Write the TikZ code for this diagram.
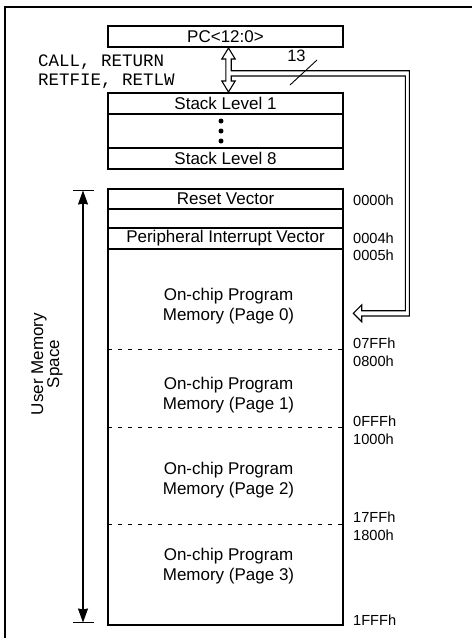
\documentclass[tikz,border=0pt]{standalone}
\usepackage{fontspec}
\setmainfont{Liberation Sans}
\setmonofont{Liberation Mono}
\usetikzlibrary{arrows.meta, positioning}

\begin{document}
\begin{tikzpicture}[
    x=1pt, y=-1pt,
    box/.style={rectangle, draw, line width=1.2pt, inner sep=0pt, outer sep=0pt, minimum width=235pt, font=\fontsize{17}{20}\selectfont},
    txt/.style={inner sep=0pt, align=center, font=\fontsize{17}{20}\selectfont},
    addr/.style={anchor=west, inner sep=0pt, font=\fontsize{14.6}{17}\selectfont},
    pagesep/.style={line width=1pt, dash pattern=on 4pt off 6pt},
    hollow/.style={line width=1.1pt, line join=miter},
    dimarrow/.style={{Stealth[length=14pt, width=10pt, inset=1pt]}-{Stealth[length=14pt, width=10pt, inset=1pt]}, line width=1.1pt}
]
\useasboundingbox (0,0) rectangle (472,638);
\draw[line width=1.5pt] (472,7) -- (5,7) -- (5,638);

% program counter and stack
\node[box, minimum height=21pt] (pc) at (225.5,36.5) {PC<12:0>};
\node[anchor=west, inner sep=0pt, align=left, font=\fontsize{17.5}{19}\ttfamily] (instr) at (38,71.5) {CALL, RETURN\\RETFIE, RETLW};

\node[box, minimum height=21pt] (stack1) at (225.5,103.5) {Stack Level 1};
\node[box, minimum height=34pt, below=0pt of stack1] (stackdots) {};
\node[box, minimum height=21pt, below=0pt of stackdots] (stack8) {Stack Level 8};
\fill ([xshift=-4.5pt, yshift=10pt]stackdots.center) circle (2.5pt);
\fill ([xshift=-4.5pt]stackdots.center) circle (2.5pt);
\fill ([xshift=-4.5pt, yshift=-10pt]stackdots.center) circle (2.5pt);

% memory map
\node[box, minimum height=20pt] (reset) at (225.5,199) {Reset Vector};
\node[box, minimum height=19pt, below=0pt of reset] (gap) {};
\node[box, minimum height=21pt, below=0pt of gap] (periph) {Peripheral Interrupt Vector};
\node[box, minimum height=376pt, below=0pt of periph] (body) {};
\draw[pagesep] (body.west |- 0,349) -- (body.east |- 0,349);
\draw[pagesep] (body.west |- 0,427) -- (body.east |- 0,427);
\draw[pagesep] (body.west |- 0,524) -- (body.east |- 0,524);

\node[txt] (page0) at (228.5,306) {On-chip Program\\Memory (Page 0)};
\node[txt] (page1) at (228.5,395) {On-chip Program\\Memory (Page 1)};
\node[txt] (page2) at (228.5,480) {On-chip Program\\Memory (Page 2)};
\node[txt] (page3) at (228.5,566) {On-chip Program\\Memory (Page 3)};

\node[addr] (a0000) at (353,200) {0000h};
\node[addr] (a0004) at (353,238) {0004h};
\node[addr] (a0005) at (353,255) {0005h};
\node[addr] (a07ff) at (353,343) {07FFh};
\node[addr] (a0800) at (353,361) {0800h};
\node[addr] (a0fff) at (353,421) {0FFFh};
\node[addr] (a1000) at (353,439) {1000h};
\node[addr] (a17ff) at (353,517) {17FFh};
\node[addr] (a1800) at (353,535) {1800h};
\node[addr] (a1fff) at (353,620) {1FFFh};

% user memory space
\coordinate (memtop) at (83,190.5);
\coordinate (membot) at (83,622.5);
\draw[line width=1.1pt] ([xshift=-10.5pt]memtop) -- ([xshift=10.5pt]memtop);
\draw[line width=1.1pt] ([xshift=-10.5pt]membot) -- ([xshift=10.5pt]membot);
\draw[dimarrow] (memtop) -- (membot);
\node[txt, rotate=90, font=\fontsize{17}{16}\selectfont] (uspace) at (47,364) {User Memory\\Space};

% stack transfer and 13-bit bus
\coordinate (pctip) at ([xshift=3pt, yshift=-1pt]pc.south);
\coordinate (stacktip) at ([xshift=3pt, yshift=1pt]stack1.north);
\coordinate (bustip) at (353.3,313.3);
\draw[hollow] (pctip) -- ++(6.7,11) -- ++(-4,0) -- ++(0,11.7) -- ++(178.1,0)
    -- ++(0,245.3) -- ++(-47.6,0) -- ++(0,5.7) -- (bustip) -- ++(8.4,-8.3)
    -- ++(0,5.7) -- ++(43.6,0) -- ++(0,-234.7) -- ++(-174.1,0) -- ++(0,5)
    -- ++(4,0) -- (stacktip) -- ++(-6.7,-11) -- ++(4,0) -- ++(0,-22)
    -- ++(-4,0) -- cycle;
\draw[line width=0.9pt] (290,85) -- (317,60);
\node[inner sep=0pt, font=\fontsize{16.5}{19}\selectfont] (width) at (296.5,56) {13};

\end{tikzpicture}
\end{document}
